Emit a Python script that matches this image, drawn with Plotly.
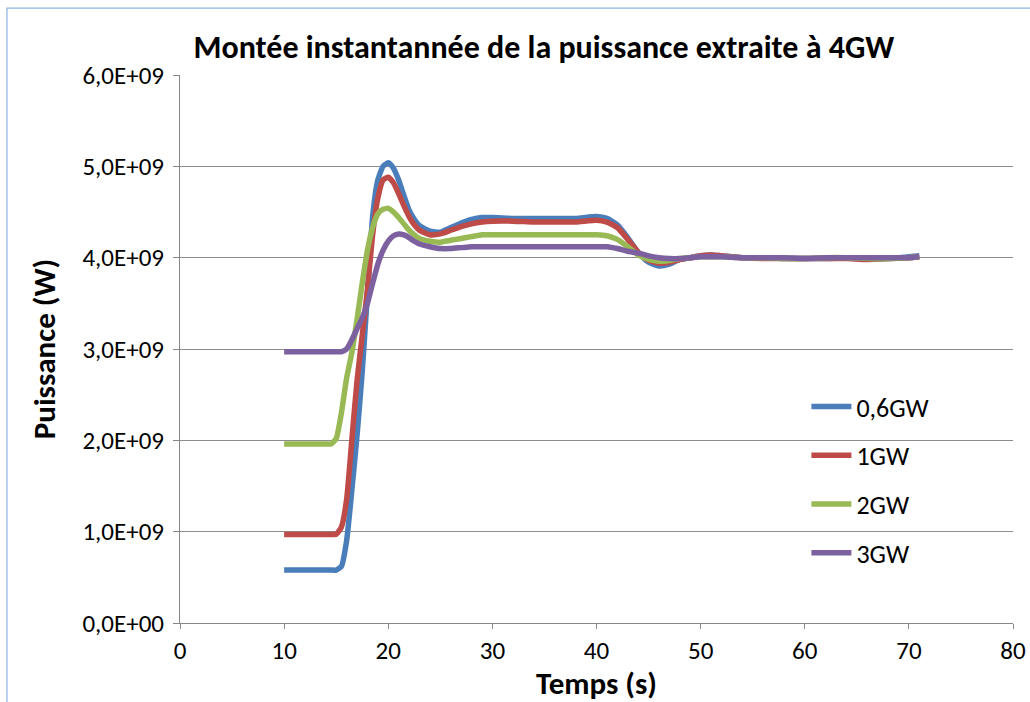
import plotly.graph_objects as go

# Time (s)
t = [10, 12, 14, 14.5, 15, 15.5, 16, 16.5, 17, 17.5, 18, 18.5, 19, 19.5, 20, 20.5, 21, 21.5,
     22, 22.5, 23, 24, 25, 26, 27, 28, 29, 30, 32, 34, 36, 38, 40, 41, 42, 43, 44, 45, 46,
     47, 48, 49, 50, 51, 52, 54, 56, 58, 60, 62, 64, 66, 68, 70, 71]

# Power in units of 1e9 W
p_06 = [0.58, 0.58, 0.58, 0.58, 0.58, 0.62, 0.90, 1.45, 2.05, 2.75, 3.60, 4.45, 4.85, 5.00, 5.04, 4.98, 4.85, 4.68,
        4.52, 4.42, 4.35, 4.29, 4.28, 4.33, 4.38, 4.42, 4.44, 4.44, 4.43, 4.43, 4.43, 4.43, 4.45, 4.43, 4.36, 4.22, 4.06, 3.95, 3.91,
        3.93, 3.98, 4.00, 4.02, 4.03, 4.02, 4.00, 4.00, 3.99, 3.99, 3.99, 4.00, 3.99, 3.99, 4.01, 4.02]
p_1 = [0.97, 0.97, 0.97, 0.97, 0.97, 1.05, 1.35, 2.00, 2.65, 3.15, 3.65, 4.25, 4.65, 4.85, 4.88, 4.82, 4.70, 4.57,
       4.45, 4.36, 4.30, 4.25, 4.26, 4.30, 4.34, 4.37, 4.39, 4.40, 4.40, 4.39, 4.39, 4.39, 4.41, 4.39, 4.33, 4.20, 4.06, 3.97, 3.94,
       3.95, 3.98, 4.00, 4.02, 4.03, 4.02, 4.00, 3.99, 3.99, 3.99, 3.99, 3.99, 3.98, 3.99, 4.00, 4.01]
p_2 = [1.96, 1.96, 1.96, 1.96, 2.02, 2.30, 2.68, 2.96, 3.32, 3.72, 4.08, 4.33, 4.48, 4.53, 4.54, 4.50, 4.44, 4.37,
       4.30, 4.25, 4.21, 4.18, 4.17, 4.19, 4.21, 4.23, 4.25, 4.25, 4.25, 4.25, 4.25, 4.25, 4.25, 4.24, 4.20, 4.12, 4.03, 3.98, 3.96,
       3.97, 3.99, 4.00, 4.01, 4.01, 4.01, 4.00, 4.00, 3.99, 3.99, 4.00, 4.00, 3.99, 3.99, 4.00, 4.01]
p_3 = [2.97, 2.97, 2.97, 2.97, 2.97, 2.97, 3.00, 3.10, 3.22, 3.34, 3.50, 3.72, 3.93, 4.08, 4.18, 4.24, 4.26, 4.25,
       4.22, 4.18, 4.15, 4.12, 4.10, 4.10, 4.11, 4.12, 4.12, 4.12, 4.12, 4.12, 4.12, 4.12, 4.12, 4.12, 4.10, 4.07, 4.05, 4.02, 4.00,
       3.99, 3.99, 4.00, 4.01, 4.01, 4.01, 4.00, 4.00, 4.00, 3.99, 4.00, 4.00, 4.00, 4.00, 4.00, 4.01]

series_names = ["0,6GW", "1GW", "2GW", "3GW"]
series_vals = [p_06, p_1, p_2, p_3]
colors = ["#4A7EBB", "#BE4B48", "#98B954", "#7D60A0"]

y_tickvals = [0, 1e9, 2e9, 3e9, 4e9, 5e9, 6e9]
y_ticktext = ["0,0E+00", "1,0E+09", "2,0E+09", "3,0E+09", "4,0E+09", "5,0E+09", "6,0E+09"]
x_tickvals = [0, 10, 20, 30, 40, 50, 60, 70, 80]

FONT = "Calibri, Carlito, 'Open Sans', sans-serif"

fig = go.Figure()
for name, vals, c in zip(series_names, series_vals, colors):
    fig.add_trace(go.Scatter(
        x=t, y=[v * 1e9 for v in vals], name=name, mode="lines",
        line=dict(color=c, width=5.5, shape="spline", smoothing=0.5),
        legendgroup=name,
    ))

fig.update_layout(
    width=1030, height=702,
    margin=dict(l=180, r=17, t=75, b=79, autoexpand=False),
    paper_bgcolor="white", plot_bgcolor="white",
    font=dict(family=FONT, size=25, color="black"),
    title=dict(text="<b>Montée instantannée de la puissance extraite à 4GW</b>",
               x=0.528, xanchor="center", y=0.933, yanchor="middle",
               font=dict(size=32, family=FONT)),
    showlegend=True,
    legend=dict(x=0.752, y=0.438, xanchor="left", yanchor="top",
                bgcolor="rgba(0,0,0,0)", font=dict(size=26, family=FONT),
                tracegroupgap=12, traceorder="grouped", itemwidth=40),
    xaxis=dict(range=[0, 80], tickvals=x_tickvals, showgrid=False, zeroline=False,
               showline=True, linecolor="#868686", linewidth=1, automargin=False,
               ticks="outside", ticklen=5, tickcolor="#868686",
               tickfont=dict(size=25),
               title=dict(text="<b>Temps (s)</b>", font=dict(size=31), standoff=4)),
    yaxis=dict(range=[0, 6e9], tickvals=y_tickvals, ticktext=y_ticktext,
               showgrid=True, gridcolor="#8C8C8C", gridwidth=1, zeroline=False,
               showline=True, linecolor="#868686", linewidth=1, automargin=False,
               ticks="outside", ticklen=6, tickcolor="#868686",
               tickfont=dict(size=25), ticklabelstandoff=4,
               title=dict(text="<b>Puissance (W)</b>", font=dict(size=31), standoff=17)),
)

fig.add_shape(type="rect", xref="paper", yref="paper",
              x0=-0.2077, x1=1.1, y0=-0.2, y1=1.122,
              line=dict(color="#8EB4E3", width=1.2), layer="below")

fig.write_html("out.html")
